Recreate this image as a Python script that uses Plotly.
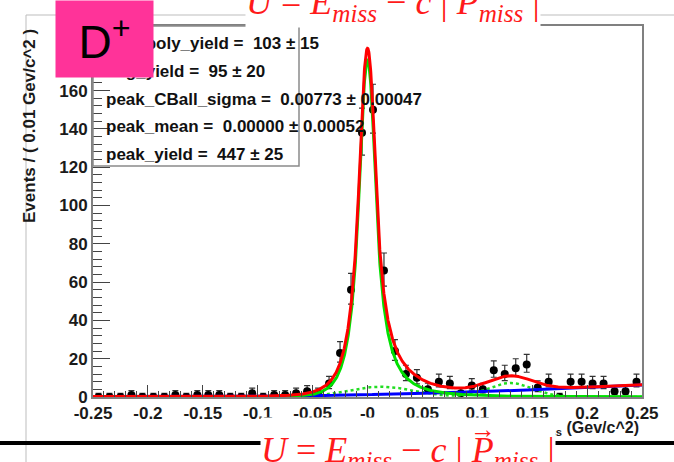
import numpy as np
import plotly.graph_objects as go

# ---- binned data: events per 0.01 GeV/c^2 in U = E_miss - c|P_miss| ----
bin_low, bin_high, bin_width = -0.25, 0.25, 0.01
counts = [0, 0, 0, 1, 0, 0, 0, 1, 0, 1,
          1, 1, 0, 0, 2, 0, 1, 1, 2, 3,
          2, 7, 23, 56, 138, 150, 66, 24, 12, 10,
          4, 8, 7, 2, 6, 4, 14, 12, 15, 17,
          5, 8, 0, 8, 8, 7, 7, 3, 3, 8]

# ---- fit results shown in the parameter box ----
param_names = ["bkg_poly_yield", "bkg_yield", "peak_CBall_sigma", "peak_mean", "peak_yield"]
param_values = ["103", "95", "0.00773", "0.00000", "447"]
param_errors = ["15", "20", "0.00047", "0.00052", "25"]

peak_mean = 0.00000
peak_sigma = 0.00773
peak_yield = 447
# Crystal Ball tail parameters (low side, high side)
cb_alpha_lo, cb_n_lo = 1.0, 10.0
cb_alpha_hi, cb_n_hi = 1.0, 3.0

# polynomial background (events / bin): c0 + c1*x + c2*x^2
poly_coef = [1.2, 12.2, 32.8]
# gaussian background bumps (events / bin): centre, width, height
bump_centres = [0.012, 0.13]
bump_widths = [0.03, 0.02]
bump_heights = [5.4, 7.3]

x_ticks = [-0.25, -0.2, -0.15, -0.1, -0.05, 0.0, 0.05, 0.1, 0.15, 0.2, 0.25]
x_tick_text = ["-0.25", "-0.2", "-0.15", "-0.1", "-0.05", "-0", "0.05", "0.1", "0.15", "0.2", "0.25"]
y_range = [0, 193.7]

# ---- derived quantities ----
n = np.array(counts, dtype=float)
centres = bin_low + bin_width * (np.arange(len(counts)) + 0.5)
err_up = np.sqrt(n + 0.75) + 1.0
with np.errstate(divide="ignore", invalid="ignore"):
    lo = n * (1 - 1 / (9 * n) - 1 / (3 * np.sqrt(n))) ** 3
err_dn = np.where(n > 0, n - np.nan_to_num(lo), 0.0)

xs = np.linspace(bin_low, bin_high, 2501)


def crystal_ball(x, mean, sigma, aL, nL, aR, nR):
    t = (x - mean) / sigma
    out = np.exp(-0.5 * t * t)
    AL = (nL / aL) ** nL * np.exp(-0.5 * aL * aL)
    BL = nL / aL - aL
    AR = (nR / aR) ** nR * np.exp(-0.5 * aR * aR)
    BR = nR / aR - aR
    m = t < -aL
    out[m] = AL * (BL - t[m]) ** (-nL)
    m = t > aR
    out[m] = AR * (BR + t[m]) ** (-nR)
    return out


shape = crystal_ball(xs, peak_mean, peak_sigma, cb_alpha_lo, cb_n_lo, cb_alpha_hi, cb_n_hi)
peak_curve = shape * peak_yield * bin_width / np.trapezoid(shape, xs)
poly_curve = poly_coef[0] + poly_coef[1] * xs + poly_coef[2] * xs ** 2
bump_curve = sum(h * np.exp(-0.5 * ((xs - c) / w) ** 2)
                 for c, w, h in zip(bump_centres, bump_widths, bump_heights))
total_curve = peak_curve + poly_curve + bump_curve

# ---- figure geometry (pixels) ----
W, H = 674, 462
L, R, T, B = 93, 642, 26, 397


def px(x):
    return (x - L) / (R - L)


def py(y):
    return (B - y) / (B - T)


fig = go.Figure()

fig.add_trace(go.Scatter(
    x=centres, y=n, mode="markers",
    marker=dict(color="black", size=8),
    error_y=dict(type="data", symmetric=False, array=err_up, arrayminus=err_dn,
                 color="#333333", thickness=1.2, width=3),
    showlegend=False))

fig.add_trace(go.Scatter(x=xs, y=bump_curve, mode="lines",
                         line=dict(color="#22dd22", width=2.5, dash="dot"), showlegend=False))
fig.add_trace(go.Scatter(x=xs, y=poly_curve, mode="lines",
                         line=dict(color="#0000ff", width=3), showlegend=False))
fig.add_trace(go.Scatter(x=xs, y=peak_curve, mode="lines",
                         line=dict(color="#00e000", width=3), showlegend=False))
fig.add_trace(go.Scatter(x=xs, y=total_curve, mode="lines",
                         line=dict(color="#ff0000", width=3), showlegend=False))

axis_font = dict(family="Liberation Sans, Arial, sans-serif", size=17, color="#1a1a1a", weight="bold")

fig.update_xaxes(range=[bin_low, bin_high], tickvals=x_ticks, ticktext=x_tick_text,
                 ticks="inside", ticklen=12, tickcolor="#444", tickwidth=1,
                 minor=dict(dtick=0.01, tick0=-0.25, ticks="inside", ticklen=6, tickcolor="#444"),
                 showline=True, mirror=True, linecolor="#808080", linewidth=2,
                 showgrid=False, zeroline=False, tickfont=axis_font)
fig.update_yaxes(range=y_range, tickvals=[0, 20, 40, 60, 80, 100, 120, 140, 160],
                 ticks="inside", ticklen=17, tickcolor="#444", tickwidth=1,
                 minor=dict(dtick=4, tick0=0, ticks="inside", ticklen=8.5, tickcolor="#444"),
                 showline=True, mirror=True, linecolor="#808080", linewidth=2,
                 showgrid=False, zeroline=False, tickfont=axis_font)

shapes = [
    dict(type="line", xref="paper", yref="paper", x0=px(26), x1=px(W), y0=py(15), y1=py(15),
         line=dict(color="#bdbdbd", width=1)),
    dict(type="line", xref="paper", yref="paper", x0=px(26), x1=px(26), y0=py(15), y1=py(H),
         line=dict(color="#bdbdbd", width=1)),
    dict(type="rect", xref="paper", yref="paper", x0=px(93), x1=px(299), y0=py(166), y1=py(26),
         line=dict(color="#8a8a8a", width=1.5)),
    dict(type="line", xref="paper", yref="paper", x0=px(0), x1=px(W), y0=py(443), y1=py(443),
         line=dict(color="black", width=4)),
]

annotations = []
annotations.append(dict(text="Events / ( 0.01 Gev/c^2 )", textangle=-90, xref="paper", yref="paper",
                        x=px(29), y=py(126), xanchor="center", yanchor="middle", showarrow=False,
                        font=dict(family="Liberation Sans, Arial, sans-serif", size=17,
                                  color="#1a1a1a", weight="bold")))
annotations.append(dict(text="U<sub>miss</sub> (Gev/c^2)", xref="paper", yref="paper",
                        x=px(641), y=py(428), xanchor="right", yanchor="middle", showarrow=False,
                        font=dict(family="Liberation Sans, Arial, sans-serif", size=16,
                                  color="#1a1a1a", weight="bold")))
line_y = [43, 71, 99, 127, 154]
for name, val, err, yy in zip(param_names, param_values, param_errors, line_y):
    annotations.append(dict(text=f"{name} =\u00a0\u00a0{val} \u00b1 {err}", xref="paper", yref="paper",
                            x=px(104), y=py(yy), xanchor="left", yanchor="middle", showarrow=False,
                            font=dict(family="Liberation Sans, Arial, sans-serif", size=17,
                                      color="#111111", weight="bold")))
# particle label
annotations.append(dict(text="D<sup>+</sup>", xref="paper", yref="paper",
                        x=px(55), y=py(0), xanchor="left", yanchor="top", showarrow=False,
                        width=97, height=76, borderpad=0, bgcolor="#ff3399", align="center",
                        valign="middle",
                        font=dict(family="Liberation Sans Narrow, Arial Narrow, Liberation Sans, sans-serif",
                                  size=46, color="black")))

formula = ("<i>U</i> = <i>E</i><sub><i>miss</i></sub> \u2212 <i>c</i> | "
           "<i>P</i><sub><i>miss</i></sub> |")
formula_font = dict(family="Liberation Serif, Times New Roman, serif", size=36, color="#ff1a1a")
annotations.append(dict(text=formula, xref="paper", yref="paper", x=px(393), y=py(4),
                        xanchor="center", yanchor="middle", showarrow=False,
                        bgcolor="white", borderpad=0, font=formula_font))
annotations.append(dict(text=formula, xref="paper", yref="paper", x=px(408), y=py(452),
                        xanchor="center", yanchor="middle", showarrow=False, height=68,
                        valign="middle", bgcolor="white", borderpad=0, font=formula_font))
annotations.append(dict(text="\u2192", xref="paper", yref="paper", x=px(483), y=py(429),
                        xanchor="center", yanchor="middle", showarrow=False,
                        font=dict(family="Liberation Serif, serif", size=26, color="#ff1a1a")))

fig.update_layout(width=W, height=H, margin=dict(l=L, r=W - R, t=T, b=H - B, pad=0),
                  paper_bgcolor="white", plot_bgcolor="white",
                  shapes=shapes, annotations=annotations, showlegend=False)

fig.write_html("out.html")
